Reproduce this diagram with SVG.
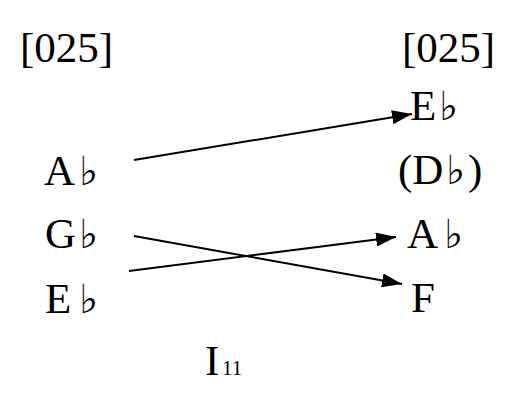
<svg xmlns="http://www.w3.org/2000/svg" width="516" height="406" viewBox="0 0 516 406">
<style>
.t{font-family:"Liberation Serif","DejaVu Serif",serif;font-size:43px;fill:#000}
.f{font-family:"DejaVu Sans","DejaVu Serif",sans-serif;font-size:40px;font-weight:normal;fill:#000}
.s{font-family:"Liberation Serif","DejaVu Serif",serif;font-size:21px;fill:#000}
.c{stroke:#000;stroke-width:2;fill:none}
</style>
<defs>
<marker id="ah" viewBox="0 0 20 14" refX="20" refY="7" markerWidth="20" markerHeight="14" markerUnits="userSpaceOnUse" orient="auto">
<path d="M0,0 L20,7 L0,14 Z" fill="#000"/>
</marker>
</defs>
<rect width="516" height="406" fill="#fff"/>
<g id="left-set"><text class="t" x="20" y="62">[025]</text></g>
<g id="right-set"><text class="t" x="402" y="62">[025]</text></g>
<g id="left-Ab"><text class="t" x="44" y="185">A</text><text class="f" x="79" y="185">♭︎</text></g>
<g id="left-Gb"><text class="t" x="45" y="248">G</text><text class="f" x="79" y="248">♭︎</text></g>
<g id="left-Eb"><text class="t" x="45" y="313">E</text><text class="f" x="79" y="313">♭︎</text></g>
<g id="right-Eb"><text class="t" x="410" y="120">E</text><text class="f" x="439" y="120">♭︎</text></g>
<g id="right-Db"><text class="t" x="398" y="184">(D</text><text class="f" x="446" y="184">♭︎</text><text class="t" x="468" y="184">)</text></g>
<g id="right-Ab"><text class="t" x="407" y="248">A</text><text class="f" x="444" y="248">♭︎</text></g>
<g id="right-F"><text class="t" x="411" y="312">F</text></g>
<g id="label"><text class="t" x="205" y="375">I</text><text class="s" x="222" y="375">11</text></g>
<g id="connectors">
<line class="c" x1="134" y1="160" x2="412" y2="114" marker-end="url(#ah)"/>
<line class="c" x1="134" y1="236" x2="402" y2="284" marker-end="url(#ah)"/>
<line class="c" x1="129" y1="271" x2="396" y2="237" marker-end="url(#ah)"/>
</g>
</svg>
